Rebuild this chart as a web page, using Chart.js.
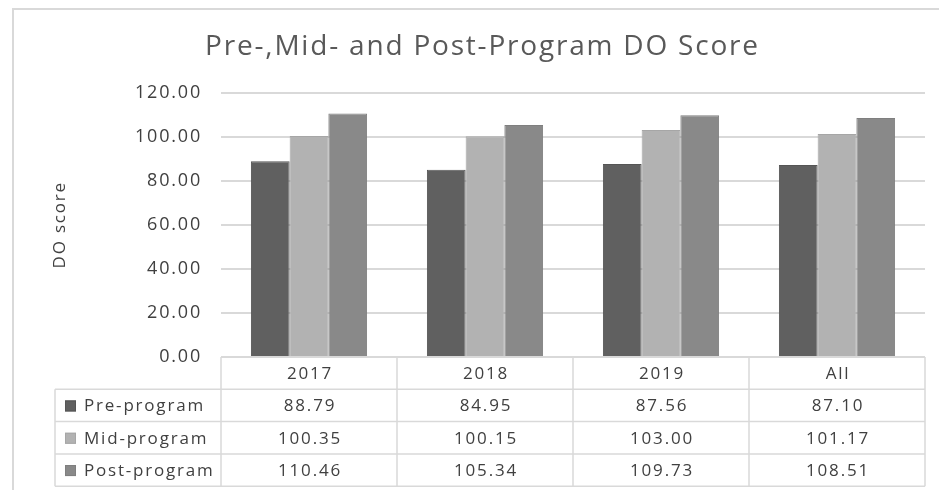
<!DOCTYPE html>
<html>
<head>
<meta charset="utf-8">
<script src="https://cdn.jsdelivr.net/npm/chart.js@4.4.1/dist/chart.umd.min.js"></script>
<style>
  html, body { margin: 0; padding: 0; background: #fff; }
  #wrap { width: 939px; height: 490px; position: relative; }
</style>
</head>
<body>
<div id="wrap"><canvas id="barChart"></canvas></div>
<script>
// chart data
const categories = ["2017", "2018", "2019", "All"];
const seriesNames = ["Pre-program", "Mid-program", "Post-program"];
const preProgram = [88.79, 84.95, 87.56, 87.10];
const midProgram = [100.35, 100.15, 103.0, 101.17];
const postProgram = [110.46, 105.34, 109.73, 108.51];
const yTicks = [0, 20, 40, 60, 80, 100, 120];

const fills = ["#606060", "#b2b2b2", "#898989"];
const edges = ["#555555", "#a6a6a6", "#7f7f7f"];
const lineGrey = "#d9d9d9";
const textGrey = "#404040";
const fontFamily = "'Open Sans', sans-serif";
const spacing = "1.8px"; // the original text is set quite wide

// wide letter spacing for every text on the canvas
// (has to be set again after each resize, canvas resets its state)
const spacingPlugin = {
  id: "spacing",
  beforeLayout(chart) {
    chart.ctx.letterSpacing = spacing;
  },
  beforeDraw(chart) {
    chart.ctx.letterSpacing = spacing;
  },
};

// frame round the whole chart (top and left only, rest is cut off)
const framePlugin = {
  id: "frame",
  beforeDraw(chart) {
    const ctx = chart.ctx;
    ctx.save();
    ctx.strokeStyle = lineGrey;
    ctx.lineWidth = 2;
    ctx.beginPath();
    ctx.moveTo(13, chart.height);
    ctx.lineTo(13, 9);
    ctx.lineTo(chart.width, 9);
    ctx.stroke();
    ctx.restore();
  },
};

// data table under the plot
const tablePlugin = {
  id: "dataTable",
  afterDraw(chart) {
    const ctx = chart.ctx;
    const area = chart.chartArea;
    const xScale = chart.scales.x;
    const colW = (area.right - area.left) / categories.length;
    const rowH = 32.3;
    const top = area.bottom;
    const legendLeft = 55;
    const rows = [preProgram, midProgram, postProgram];

    ctx.save();
    ctx.strokeStyle = lineGrey;
    ctx.lineWidth = 1.5;
    ctx.beginPath();
    ctx.moveTo(area.left, top);
    ctx.lineTo(area.right, top);
    for (let r = 1; r <= rows.length + 1; r++) {
      const y = top + r * rowH;
      ctx.moveTo(legendLeft, y);
      ctx.lineTo(area.right, y);
    }
    for (let c = 0; c <= categories.length; c++) {
      const x = area.left + c * colW;
      ctx.moveTo(x, top);
      ctx.lineTo(x, top + (rows.length + 1) * rowH);
    }
    ctx.moveTo(legendLeft, top + rowH);
    ctx.lineTo(legendLeft, top + (rows.length + 1) * rowH);
    ctx.stroke();

    ctx.letterSpacing = spacing;
    ctx.font = "17px " + fontFamily;
    ctx.fillStyle = textGrey;
    ctx.textBaseline = "middle";
    ctx.textAlign = "center";
    categories.forEach((cat, i) => {
      ctx.fillText(cat, xScale.getPixelForValue(i) + 1, top + rowH / 2 + 1);
    });
    rows.forEach((vals, r) => {
      const yMid = top + (r + 1.5) * rowH + 1;
      ctx.textAlign = "center";
      ctx.fillStyle = textGrey;
      vals.forEach((v, i) => {
        ctx.fillText(v.toFixed(2), xScale.getPixelForValue(i) + 1, yMid);
      });
      // legend key
      ctx.fillStyle = fills[r];
      ctx.fillRect(65, yMid - 6, 11, 11);
      ctx.strokeStyle = edges[r];
      ctx.lineWidth = 1;
      ctx.strokeRect(65.5, yMid - 5.5, 10, 10);
      ctx.fillStyle = textGrey;
      ctx.textAlign = "left";
      ctx.fillText(seriesNames[r], 84, yMid);
    });
    ctx.restore();
  },
};

const ctx = document.getElementById("barChart").getContext("2d");
new Chart(ctx, {
  type: "bar",
  data: {
    labels: categories,
    datasets: [preProgram, midProgram, postProgram].map((vals, i) => ({
      label: seriesNames[i],
      data: vals,
      backgroundColor: fills[i],
      borderColor: edges[i],
      borderWidth: 1,
      categoryPercentage: 0.66,
      barPercentage: 1,
    })),
  },
  options: {
    responsive: true,
    maintainAspectRatio: false,
    animation: false,
    layout: {
      padding: { left: 40, right: 14, top: 0, bottom: 133 },
    },
    plugins: {
      legend: { display: false },
      tooltip: { enabled: false },
      title: {
        display: true,
        text: "Pre-,Mid- and Post-Program DO Score",
        color: "#595959",
        font: { family: fontFamily, size: 28, weight: "normal" },
        padding: { top: 30, bottom: 29 },
      },
    },
    scales: {
      x: {
        display: false,
      },
      y: {
        min: 0,
        max: 120,
        afterBuildTicks: (scale) => {
          scale.ticks = yTicks.map((v) => ({ value: v }));
        },
        afterFit: (scale) => {
          scale.width = 181;
        },
        grid: { color: lineGrey, lineWidth: 2, drawTicks: false },
        border: { display: false },
        ticks: {
          color: textGrey,
          padding: 19,
          font: { family: fontFamily, size: 18 },
          callback: (v) => Number(v).toFixed(2),
        },
        title: {
          display: true,
          text: "DO score",
          color: textGrey,
          padding: { top: 10 },
          font: { family: fontFamily, size: 17 },
        },
      },
    },
  },
  plugins: [spacingPlugin, framePlugin, tablePlugin],
});
</script>
</body>
</html>
